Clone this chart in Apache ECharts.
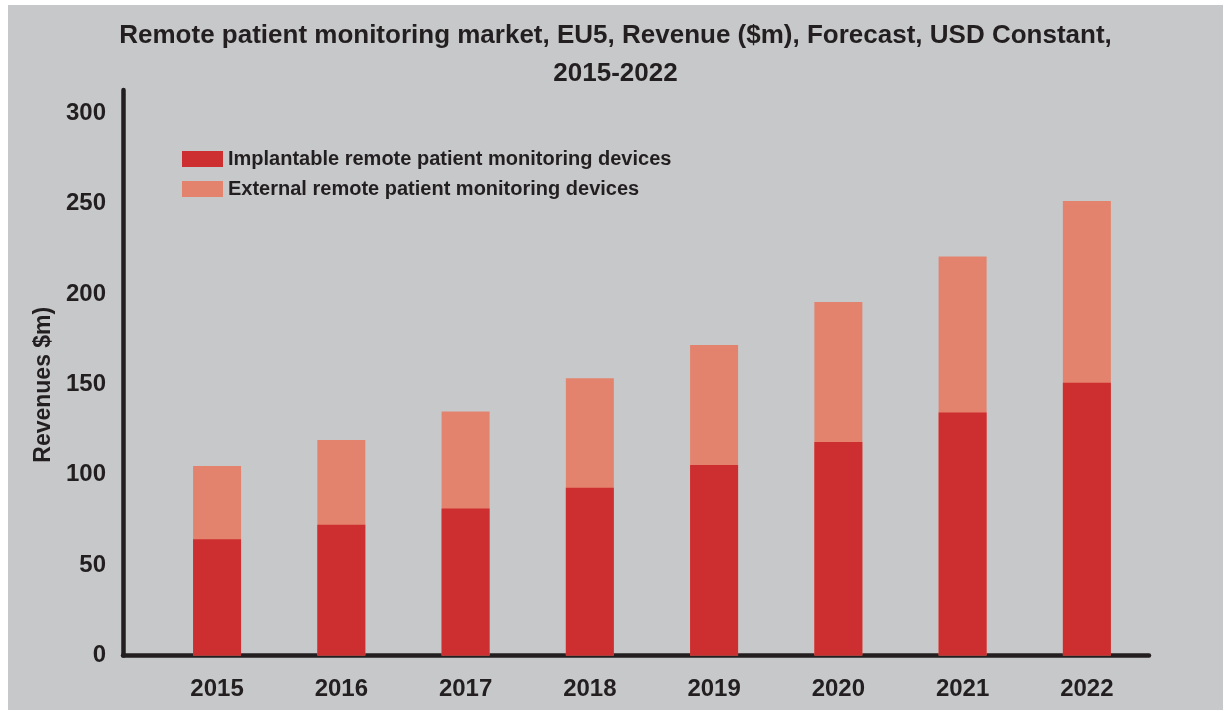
<!DOCTYPE html>
<html>
<head>
<meta charset="utf-8">
<script src="https://cdn.jsdelivr.net/npm/echarts@6/dist/echarts.min.js"></script>
<style>
  html, body { margin: 0; padding: 0; background: #fff; }
  #chart { position: absolute; left: 8px; top: 5px; width: 1215px; height: 705px; background: #c7c8ca; }
</style>
</head>
<body>
<div id="chart"></div>
<script>
// data
var years = ['2015', '2016', '2017', '2018', '2019', '2020', '2021', '2022'];
var implantable = [64.4, 72.4, 81.3, 92.9, 105.5, 118.2, 134.5, 150.9];
var external = [40.5, 46.9, 53.7, 60.6, 66.3, 77.4, 86.4, 100.6];
var yTicks = [0, 50, 100, 150, 200, 250, 300];

var ink = '#231f20';
var font = '"Liberation Sans", Arial, sans-serif';
var implName = 'Implantable remote patient monitoring devices';
var extName = 'External remote patient monitoring devices';

var xIdx = years.map(function (y, i) { return i; });
// external sits on top of implantable: draw the full column in the external colour,
// then the implantable part over it
var totals = implantable.map(function (v, i) { return v + external[i]; });

var option = {
  animation: false,
  title: {
    text: 'Remote patient monitoring market, EU5, Revenue ($m), Forecast, USD Constant,\n2015-2022',
    left: 'center',
    top: 7,
    textStyle: { color: ink, fontFamily: font, fontWeight: 'bold', fontSize: 26, lineHeight: 38 }
  },
  legend: {
    orient: 'vertical',
    left: 169,
    top: 139,
    itemWidth: 41,
    itemHeight: 16,
    itemGap: 10,
    icon: 'rect',
    textStyle: { color: ink, fontFamily: font, fontWeight: 'bold', fontSize: 20 },
    data: [implName, extName]
  },
  grid: { left: 115, right: 74, top: 85, bottom: 54.5 },
  xAxis: {
    type: 'value',
    min: -0.757,
    max: 7.5,
    splitLine: { show: false },
    axisLine: { show: true, onZero: false, lineStyle: { color: ink, width: 4.5 } },
    axisTick: { show: false },
    axisLabel: {
      customValues: xIdx,
      formatter: function (v) { return years[Math.round(v)]; },
      color: ink, fontFamily: font, fontWeight: 'bold', fontSize: 24, margin: 22
    }
  },
  yAxis: {
    type: 'value',
    min: 0,
    max: 313,
    name: 'Revenues $m)',
    nameLocation: 'middle',
    nameGap: 68,
    nameTextStyle: { color: ink, fontFamily: font, fontWeight: 'bold', fontSize: 23, padding: [0, 24, 0, 0] },
    splitLine: { show: false },
    axisLine: { show: true, onZero: false, lineStyle: { color: ink, width: 4.5 } },
    axisTick: { show: false },
    axisLabel: {
      customValues: yTicks,
      color: ink, fontFamily: font, fontWeight: 'bold', fontSize: 24, margin: 17,
      padding: [6, 0, 0, 0]
    }
  },
  series: [
    {
      name: extName,
      type: 'bar',
      barWidth: 48,
      barGap: '-100%',
      itemStyle: { color: '#e3836d' },
      data: totals.map(function (v, i) { return [i, v]; })
    },
    {
      name: implName,
      type: 'bar',
      barWidth: 48,
      barGap: '-100%',
      itemStyle: { color: '#cd2f31' },
      data: implantable.map(function (v, i) { return [i, v]; })
    }
  ]
};

var chart = echarts.init(document.getElementById('chart'));
chart.setOption(option);
</script>
</body>
</html>
